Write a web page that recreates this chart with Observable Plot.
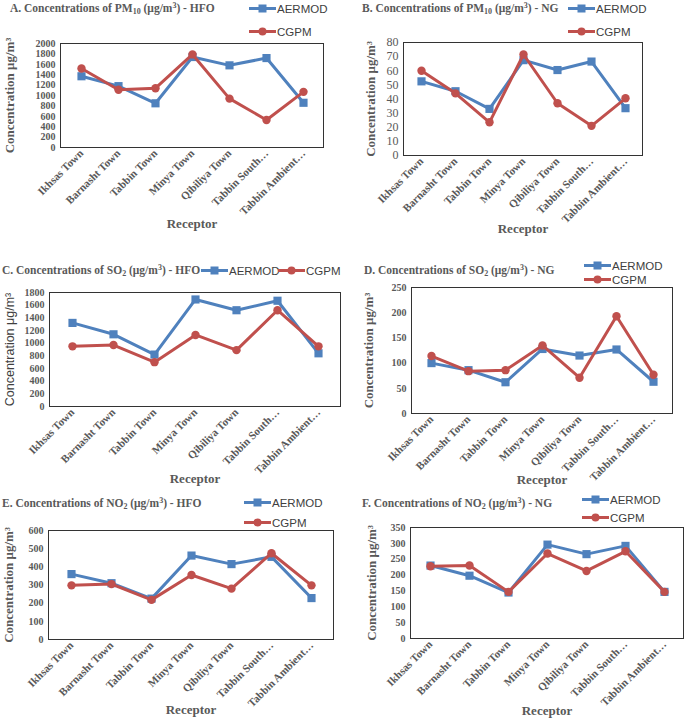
<!DOCTYPE html>
<html>
<head>
<meta charset="utf-8">
<script src="https://cdn.jsdelivr.net/npm/d3@7"></script>
<script src="https://cdn.jsdelivr.net/npm/@observablehq/plot@0.6"></script>
<style>
  html, body { margin: 0; padding: 0; background: #fff; }
  #root { position: relative; width: 685px; height: 718px; overflow: hidden; }
  .panel { position: absolute; }
  .title { position: absolute; font-family: "Liberation Serif", serif; font-weight: bold; font-size: 11.5px; color: #595959; white-space: nowrap; }
  .title sub, .title sup { font-size: 8px; }
  .title sub { vertical-align: -2px; }
  .title sup { vertical-align: 4px; }
  .legend { position: absolute; font-family: "Liberation Sans", sans-serif; font-size: 11.5px; color: #404040; white-space: nowrap; display: flex; align-items: center; }
  .legend svg { display: block; margin-right: 1px; }
  svg g[aria-label="y-axis label"] text, svg g[aria-label="x-axis label"] text { font-size: 13px; }
  svg g[aria-label="x-axis tick label"] text { font-size: 11px; }
  .sansy g[aria-label="y-axis label"] text { font-family: "Liberation Sans", sans-serif; font-weight: normal; font-size: 12.5px; fill: #404040; }
  .bigticks g[aria-label="y-axis tick label"] text { font-size: 12px; font-weight: normal; }
</style>
</head>
<body>
<div id="root"></div>
<script>
const categories = ["Ikhsas Town", "Barnasht Town", "Tabbin Town", "Minya Town", "Qibiliya Town", "Tabbin South…", "Tabbin Ambient…"];
const seriesNames = ["AERMOD", "CGPM"];
const seriesColors = ["#4F81BD", "#C0504D"];

// A. PM10 - HFO
const pm10HfoAermod = [1370, 1180, 850, 1740, 1580, 1720, 860];
const pm10HfoCgpm   = [1520, 1110, 1140, 1790, 940, 530, 1070];
// B. PM10 - NG
const pm10NgAermod = [52.5, 45.5, 33, 67.5, 60.5, 66.5, 33.5];
const pm10NgCgpm   = [60, 44, 23.5, 71.5, 37, 21, 40.5];
// C. SO2 - HFO
const so2HfoAermod = [1320, 1140, 820, 1690, 1520, 1670, 840];
const so2HfoCgpm   = [950, 970, 700, 1130, 890, 1520, 950];
// D. SO2 - NG
const so2NgAermod = [100, 86, 62, 128, 115, 127, 63];
const so2NgCgpm   = [114, 84, 86, 135, 71, 193, 77];
// E. NO2 - HFO
const no2HfoAermod = [360, 310, 225, 462, 415, 455, 228];
const no2HfoCgpm   = [298, 305, 218, 355, 280, 475, 298];
// F. NO2 - NG
const no2NgAermod = [230, 198, 145, 296, 266, 292, 147];
const no2NgCgpm   = [228, 230, 147, 268, 213, 275, 147];

// y tick values per panel
const ticksA = d3.range(0, 2001, 200);
const ticksB = d3.range(0, 81, 10);
const ticksC = d3.range(0, 1801, 200);
const ticksD = d3.range(0, 251, 50);
const ticksE = d3.range(0, 601, 100);
const ticksF = d3.range(0, 351, 50);

const root = document.getElementById("root");

function rows(a, c) {
  return [
    ...categories.map((cat, i) => ({cat, series: "AERMOD", value: a[i]})),
    ...categories.map((cat, i) => ({cat, series: "CGPM", value: c[i]}))
  ];
}

function panel(cfg) {
  const data = rows(cfg.a, cfg.c);
  const A = data.filter(d => d.series === "AERMOD");
  const C = data.filter(d => d.series === "CGPM");
  const chart = Plot.plot({
    width: cfg.w, height: cfg.h,
    marginLeft: cfg.ml, marginRight: cfg.mr, marginTop: cfg.mt, marginBottom: cfg.mb,
    style: {fontFamily: "Liberation Serif, serif", fontWeight: "bold", fontSize: "10px", color: "#595959", background: "transparent", overflow: "visible"},
    x: {type: "point", domain: categories, padding: 0.5, label: "Receptor", labelArrow: false, labelAnchor: "center", labelOffset: cfg.xlo, tickSize: 0, tickRotate: -45, tickPadding: 4},
    y: {domain: [cfg.ticks[0], cfg.ticks[cfg.ticks.length - 1]], ticks: cfg.ticks, tickFormat: d => String(d), label: "Concentration μg/m³", labelArrow: false, labelAnchor: "center", labelOffset: cfg.ylo, tickSize: 0, tickPadding: 5},
    color: {domain: seriesNames, range: seriesColors},
    marks: [
      Plot.frame({stroke: "#333", strokeWidth: 1}),
      Plot.line(A, {x: "cat", y: "value", stroke: "series", strokeWidth: 3}),
      Plot.dot(A, {x: "cat", y: "value", fill: "series", symbol: "square", r: 4.6, stroke: "none"}),
      Plot.line(C, {x: "cat", y: "value", stroke: "series", strokeWidth: 3}),
      Plot.dot(C, {x: "cat", y: "value", fill: "series", symbol: "circle", r: 4.2, stroke: "none"})
    ]
  });
  const wrap = document.createElement("div");
  wrap.className = "panel " + (cfg.cls || "");
  wrap.style.left = cfg.x + "px";
  wrap.style.top = cfg.y + "px";
  wrap.appendChild(chart);
  root.appendChild(wrap);

  const t = document.createElement("div");
  t.className = "title";
  t.style.left = cfg.tx + "px";
  t.style.top = cfg.ty + "px";
  t.innerHTML = cfg.title;
  root.appendChild(t);

  cfg.legend.forEach(([lx, ly], i) => {
    const l = document.createElement("div");
    l.className = "legend";
    l.style.left = lx + "px";
    l.style.top = ly + "px";
    const col = seriesColors[i];
    const sym = i === 0
      ? `<rect x="9.5" y="2.5" width="8" height="8" fill="${col}"/>`
      : `<circle cx="13.5" cy="6.5" r="4" fill="${col}"/>`;
    l.innerHTML = `<svg width="27" height="13"><line x1="0" x2="27" y1="6.5" y2="6.5" stroke="${col}" stroke-width="3"/>${sym}</svg><span>${seriesNames[i]}</span>`;
    root.appendChild(l);
  });
}

panel({x: 0, y: 0, w: 340, h: 235, ml: 60, mr: 17, mt: 43, mb: 88, ylo: 56, xlo: 80,
  a: pm10HfoAermod, c: pm10HfoCgpm, ticks: ticksA,
  title: "A. Concentrations of PM<sub>10</sub> (μg/m<sup>3</sup>) - HFO", tx: 10, ty: 1,
  legend: [[249, 2], [249, 25]]});

panel({x: 340, y: 0, w: 345, h: 235, ml: 63, mr: 43, mt: 42, mb: 80, ylo: 38, xlo: 77, cls: "bigticks",
  a: pm10NgAermod, c: pm10NgCgpm, ticks: ticksB,
  title: "B. Concentrations of PM<sub>10</sub> (μg/m<sup>3</sup>) - NG", tx: 362, ty: 1,
  legend: [[568, 2], [568, 25]]});

panel({x: 0, y: 235, w: 341, h: 245, ml: 49, mr: 1, mt: 57, mb: 74, ylo: 44, xlo: 76, cls: "sansy",
  a: so2HfoAermod, c: so2HfoCgpm, ticks: ticksC,
  title: "C. Concentrations of SO<sub>2</sub> (μg/m<sup>3</sup>) - HFO", tx: 2, ty: 263,
  legend: [[201, 264], [278, 264]]});

panel({x: 340, y: 235, w: 345, h: 245, ml: 71, mr: 13, mt: 52, mb: 67, ylo: 48, xlo: 70,
  a: so2NgAermod, c: so2NgCgpm, ticks: ticksD,
  title: "D. Concentrations of SO<sub>2</sub> (μg/m<sup>3</sup>) - NG", tx: 364, ty: 263,
  legend: [[584, 259], [584, 273]]});

panel({x: 0, y: 480, w: 340, h: 238, ml: 48, mr: 7, mt: 50, mb: 79, ylo: 45, xlo: 74,
  a: no2HfoAermod, c: no2HfoCgpm, ticks: ticksE,
  title: "E. Concentrations of NO<sub>2</sub> (μg/m<sup>3</sup>) - HFO", tx: 2, ty: 496,
  legend: [[244, 496], [244, 516]]});

panel({x: 340, y: 480, w: 345, h: 238, ml: 70, mr: 2, mt: 47, mb: 80, ylo: 44, xlo: 76,
  a: no2NgAermod, c: no2NgCgpm, ticks: ticksF,
  title: "F. Concentrations of NO<sub>2</sub> (μg/m<sup>3</sup>) - NG", tx: 362, ty: 496,
  legend: [[582, 493], [582, 511]]});
</script>
</body>
</html>
